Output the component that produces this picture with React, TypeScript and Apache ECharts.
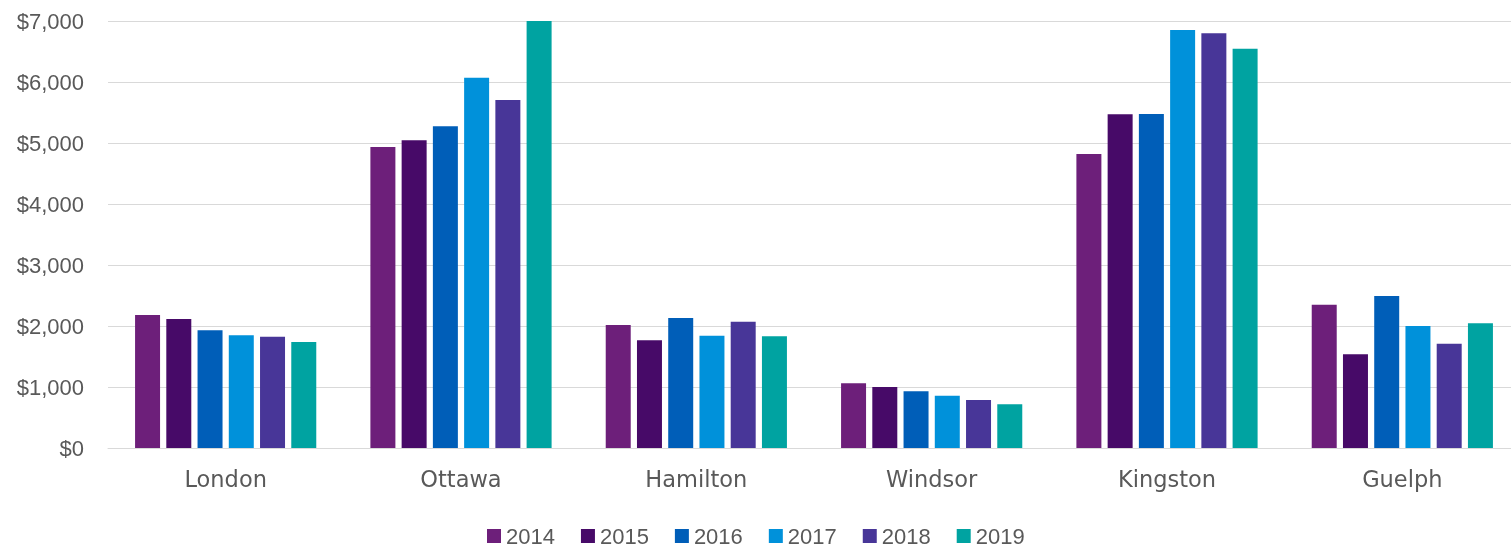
import React, { useEffect, useRef } from "react";
import * as echarts from "echarts";

const cities = ["London", "Ottawa", "Hamilton", "Windsor", "Kingston", "Guelph"];
const years = ["2014", "2015", "2016", "2017", "2018", "2019"];
const colors = ["#6D1F7A", "#470A68", "#005EB8", "#0091DA", "#483698", "#00A3A1"];

const v2014 = [2180, 4934, 2016, 1060, 4820, 2350];
const v2015 = [2115, 5044, 1765, 1000, 5470, 1536];
const v2016 = [1930, 5273, 2131, 929, 5475, 2492];
const v2017 = [1847, 6071, 1841, 858, 6852, 2000];
const v2018 = [1825, 5705, 2071, 787, 6798, 1710];
const v2019 = [1738, 7000, 1831, 716, 6546, 2044];
const seriesValues = [v2014, v2015, v2016, v2017, v2018, v2019];

const yMin = 0;
const yMax = 7000;
const yInterval = 1000;

const FONT = "'Liberation Sans', Arial, sans-serif";
const FONT_WIDE = "'DejaVu Sans', Verdana, sans-serif";

export default function App() {
  const ref = useRef<HTMLDivElement>(null);
  useEffect(() => {
    document.body.style.margin = "0";
    document.body.style.overflow = "hidden";
    const chart = echarts.init(ref.current!, undefined, { renderer: "svg" });
    chart.setOption({
      animation: false,
      color: colors,
      textStyle: { fontFamily: FONT },
      grid: { left: 108, right: 0, top: 21, bottom: 100, containLabel: false },
      legend: {
        left: 487,
        top: 525,
        padding: 0,
        itemWidth: 14,
        itemHeight: 14,
        itemGap: 26,
        icon: "rect",
        textStyle: { color: "#595959", fontSize: 22, lineHeight: 18, fontFamily: FONT },
        data: years,
      },
      xAxis: {
        type: "category",
        data: cities,
        axisLine: { show: true, lineStyle: { color: "#D9D9D9", width: 1 } },
        axisTick: { show: false },
        axisLabel: { color: "#595959", fontSize: 22.5, fontFamily: FONT_WIDE, margin: 19 },
      },
      yAxis: {
        type: "value",
        min: yMin,
        max: yMax,
        interval: yInterval,
        axisLine: { show: false },
        axisTick: { show: false },
        splitLine: { lineStyle: { color: "#D9D9D9", width: 1 } },
        axisLabel: {
          color: "#595959",
          fontSize: 22,
          fontFamily: FONT,
          margin: 24,
          formatter: (v: number) => "$" + v.toLocaleString("en-US"),
        },
      },
      series: years.map((y, i) => ({
        name: y,
        type: "bar",
        data: seriesValues[i],
        barGap: "25%",
        barCategoryGap: "23%",
        itemStyle: { color: colors[i] },
      })),
    });
    return () => chart.dispose();
  }, []);
  return (
    <div
      ref={ref}
      style={{ position: "fixed", left: 0, top: 0, width: 1520, height: 548 }}
    />
  );
}
